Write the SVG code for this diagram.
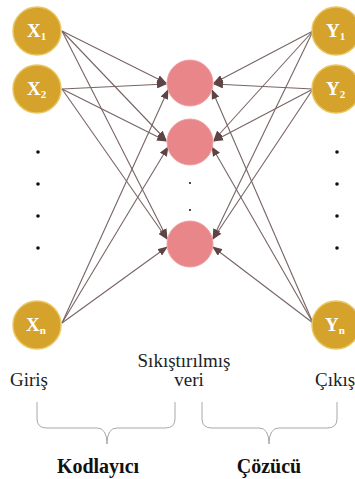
<svg xmlns="http://www.w3.org/2000/svg" width="355" height="479" viewBox="0 0 355 479">
<defs>
<marker id="ah" markerUnits="userSpaceOnUse" markerWidth="10" markerHeight="8" refX="9" refY="4" orient="auto">
<path d="M0,0 L10,4 L0,8 Z" fill="#5e4444"/>
</marker>
<style>
.io{fill:#d5a22b;stroke:#e9c661;stroke-width:1.5}
.hid{fill:#e8868a;stroke:#ee9ea0;stroke-width:1}
.lbl{font-family:"Liberation Serif",serif;font-weight:bold;fill:#fff;font-size:19px}
.sub{font-size:11px}
.dot{fill:#111}
.conn line{stroke:#786464;stroke-width:1.1;marker-end:url(#ah)}
.txt{font-family:"Liberation Serif",serif;font-size:19px;fill:#222}
.bold{font-weight:bold;font-size:20px;fill:#111}
.brace{fill:none;stroke:#a8a8a8;stroke-width:1}
</style>
</defs>
<rect width="355" height="479" fill="#fff"/>
<g id="connectors" class="conn">
<line x1="62" y1="31" x2="166" y2="83"/>
<line x1="62" y1="31" x2="166" y2="140"/>
<line x1="62" y1="31" x2="167" y2="238"/>
<line x1="62" y1="89" x2="166" y2="84"/>
<line x1="62" y1="89" x2="166" y2="141"/>
<line x1="62" y1="89" x2="167" y2="239"/>
<line x1="62" y1="323" x2="168" y2="90"/>
<line x1="62" y1="323" x2="168" y2="147"/>
<line x1="62" y1="323" x2="167" y2="247"/>
<line x1="313" y1="31" x2="214" y2="83"/>
<line x1="313" y1="31" x2="214" y2="140"/>
<line x1="313" y1="31" x2="213" y2="238"/>
<line x1="313" y1="89" x2="214" y2="84"/>
<line x1="313" y1="89" x2="214" y2="141"/>
<line x1="313" y1="89" x2="213" y2="239"/>
<line x1="313" y1="323" x2="212" y2="90"/>
<line x1="313" y1="323" x2="212" y2="147"/>
<line x1="313" y1="323" x2="213" y2="247"/>
</g>
<g id="x1"><circle class="io" cx="37" cy="31" r="24"/><text class="lbl" x="27" y="37">X<tspan class="sub" dy="3">1</tspan></text></g>
<g id="x2"><circle class="io" cx="37" cy="89" r="24"/><text class="lbl" x="27" y="95">X<tspan class="sub" dy="3">2</tspan></text></g>
<g id="xn"><circle class="io" cx="37" cy="325" r="24"/><text class="lbl" x="26" y="331">X<tspan class="sub" dy="3">n</tspan></text></g>
<g id="y1"><circle class="io" cx="336" cy="31" r="24"/><text class="lbl" x="326" y="37">Y<tspan class="sub" dy="3">1</tspan></text></g>
<g id="y2"><circle class="io" cx="336" cy="89" r="24"/><text class="lbl" x="326" y="95">Y<tspan class="sub" dy="3">2</tspan></text></g>
<g id="yn"><circle class="io" cx="336" cy="325" r="24"/><text class="lbl" x="325" y="331">Y<tspan class="sub" dy="3">n</tspan></text></g>
<g id="h1"><circle class="hid" cx="190" cy="83" r="23"/></g>
<g id="h2"><circle class="hid" cx="190" cy="142" r="23"/></g>
<g id="h3"><circle class="hid" cx="190" cy="244" r="23"/></g>
<g id="dots">
<circle class="dot" cx="38" cy="152" r="1.8"/><circle class="dot" cx="38" cy="184" r="1.8"/><circle class="dot" cx="38" cy="216" r="1.8"/><circle class="dot" cx="38" cy="248" r="1.8"/>
<circle class="dot" cx="337" cy="152" r="1.8"/><circle class="dot" cx="337" cy="184" r="1.8"/><circle class="dot" cx="337" cy="216" r="1.8"/><circle class="dot" cx="337" cy="248" r="1.8"/>
<circle class="dot" cx="190" cy="183" r="1"/><circle class="dot" cx="190" cy="210" r="1"/>
</g>
<g id="labels">
<text class="txt" x="10" y="386">Giriş</text>
<text class="txt" x="184" y="367" text-anchor="middle">Sıkıştırılmış</text>
<text class="txt" x="189" y="386" text-anchor="middle">veri</text>
<text class="txt" x="315" y="386">Çıkış</text>
<text class="txt bold" x="98" y="473" text-anchor="middle">Kodlayıcı</text>
<text class="txt bold" x="269" y="473" text-anchor="middle">Çözücü</text>
</g>
<g id="braces">
<path class="brace" d="M37,402 V419 Q37,428 47,428 H97 Q107,428 107,444 Q107,428 117,428 H165 Q175,428 175,419 V402"/>
<path class="brace" d="M202,402 V419 Q202,428 212,428 H259 Q269,428 269,444 Q269,428 279,428 H327 Q337,428 337,419 V402"/>
</g>
</svg>
